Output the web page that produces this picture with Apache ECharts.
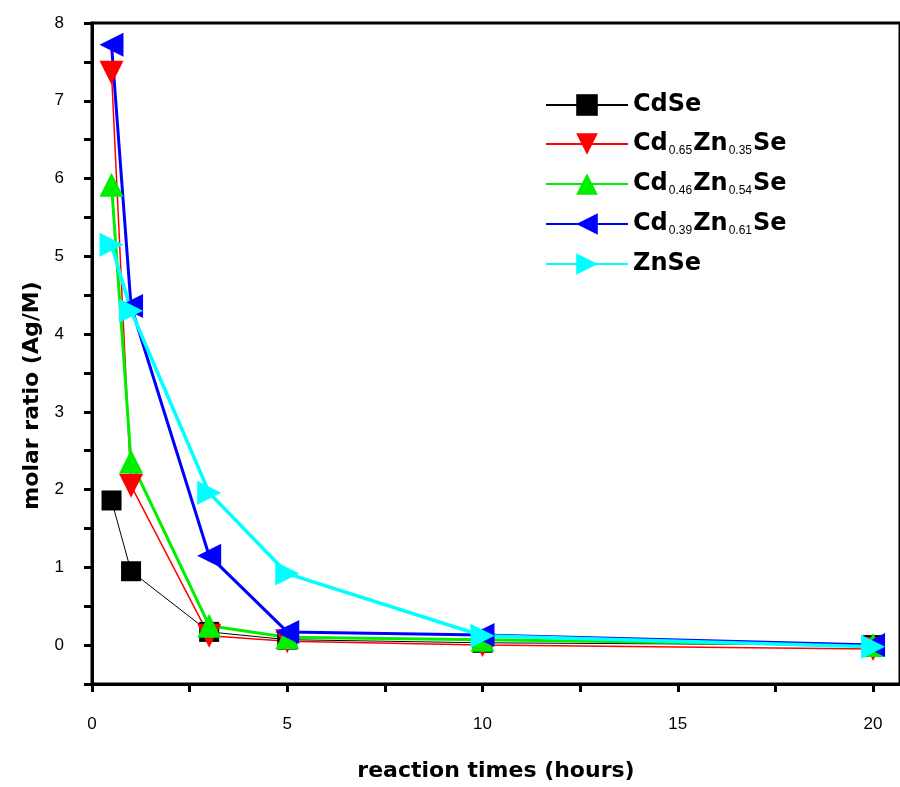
<!DOCTYPE html>
<html>
<head>
<meta charset="utf-8">
<script src="https://cdn.jsdelivr.net/npm/echarts@6/dist/echarts.min.js"></script>
<style>
html, body { margin: 0; padding: 0; background: #fff; }
#container { width: 900px; height: 787px; }
</style>
</head>
<body>
<div id="container"></div>
<script>
// reaction time (hours)
var times = [0.5, 1, 3, 5, 10, 20];

var cdse     = [1.86, 0.95, 0.17, 0.07, 0.03, 0.00];
var cd65zn35 = [7.36, 2.05, 0.12, 0.05, 0.00, -0.05];
var cd46zn54 = [5.92, 2.36, 0.25, 0.10, 0.07, 0.00];
var cd39zn61 = [7.72, 4.36, 1.15, 0.17, 0.13, 0.00];
var znse     = [5.15, 4.30, 1.96, 0.92, 0.12, -0.02];

var seriesNames = ['CdSe', 'Cd0.65Zn0.35Se', 'Cd0.46Zn0.54Se', 'Cd0.39Zn0.61Se', 'ZnSe'];

function pairs(vals) {
    var result = [];
    for (var i = 0; i < times.length; i++) {
        result.push([times[i], vals[i]]);
    }
    return result;
}

var dom = document.getElementById("container");
var myChart = echarts.init(dom);

var font = 'Liberation Sans, Arial, sans-serif';
var boldFont = 'DejaVu Sans, Liberation Sans, sans-serif';

function makeSeries(name, vals, color, width, symbol, rotate, size) {
    return {
        name: name,
        type: 'line',
        data: pairs(vals),
        symbol: symbol,
        symbolRotate: rotate,
        symbolSize: size,
        color: color,
        itemStyle: { color: color },
        lineStyle: { color: color, width: width },
        animation: false
    };
}

var option = {
    animation: false,
    backgroundColor: '#fff',
    grid: {
        left: 92,
        right: 0,
        top: 23,
        bottom: 97,
        show: true,
        borderColor: '#000',
        borderWidth: 3
    },
    legend: {
        orient: 'vertical',
        left: 540,
        top: 88,
        itemWidth: 82,
        itemHeight: 27,
        itemGap: 15,
        data: seriesNames,
        formatter: function (name) {
            if (name === 'Cd0.65Zn0.35Se') return '{a|Cd}{s|0.65}{a|Zn}{s|0.35}{a|Se}';
            if (name === 'Cd0.46Zn0.54Se') return '{a|Cd}{s|0.46}{a|Zn}{s|0.54}{a|Se}';
            if (name === 'Cd0.39Zn0.61Se') return '{a|Cd}{s|0.39}{a|Zn}{s|0.61}{a|Se}';
            return '{a|' + name + '}';
        },
        textStyle: {
            rich: {
                a: { fontFamily: boldFont, fontWeight: 'bold', fontSize: 24, color: '#000' },
                s: { fontFamily: font, fontSize: 12, color: '#000', padding: [14, 1, 0, 1] }
            }
        }
    },
    xAxis: {
        type: 'value',
        min: 0,
        max: 20.69,
        interval: 2.5,
        name: 'reaction times (hours)',
        nameLocation: 'middle',
        nameGap: 76,
        nameTextStyle: { fontFamily: boldFont, fontWeight: 'bold', fontSize: 22, color: '#000' },
        axisLine: { onZero: false, lineStyle: { color: '#000', width: 3 } },
        axisTick: { length: 8, lineStyle: { color: '#000', width: 3 } },
        axisLabel: {
            fontFamily: font, fontSize: 17, color: '#000', margin: 32,
            showMaxLabel: false,
            formatter: function (v) { return v % 5 === 0 ? String(v) : ''; }
        },
        splitLine: { show: false }
    },
    yAxis: {
        type: 'value',
        min: -0.5,
        max: 8,
        interval: 0.5,
        name: 'molar ratio (Ag/M)',
        nameLocation: 'middle',
        nameGap: 46,
        nameTextStyle: {
            fontFamily: boldFont, fontWeight: 'bold', fontSize: 22, color: '#000',
            padding: [0, 84, 0, 0]
        },
        axisLine: { lineStyle: { color: '#000', width: 3 } },
        axisTick: { length: 8, lineStyle: { color: '#000', width: 3 } },
        axisLabel: {
            fontFamily: font, fontSize: 17, color: '#000', margin: 28,
            formatter: function (v) { return v % 1 === 0 ? String(v) : ''; }
        },
        splitLine: { show: false }
    },
    series: [
        makeSeries('CdSe', cdse, '#000000', 1, 'rect', 0, 20),
        makeSeries('Cd0.65Zn0.35Se', cd65zn35, '#ff0000', 1.5, 'triangle', 180, 24),
        makeSeries('Cd0.46Zn0.54Se', cd46zn54, '#00ee00', 3, 'triangle', 0, 24),
        makeSeries('Cd0.39Zn0.61Se', cd39zn61, '#0000ff', 3, 'triangle', 90, 24),
        makeSeries('ZnSe', znse, '#00ffff', 3.5, 'triangle', -90, 24)
    ]
};

if (option && typeof option === "object") {
    myChart.setOption(option, true);
}
</script>
</body>
</html>
